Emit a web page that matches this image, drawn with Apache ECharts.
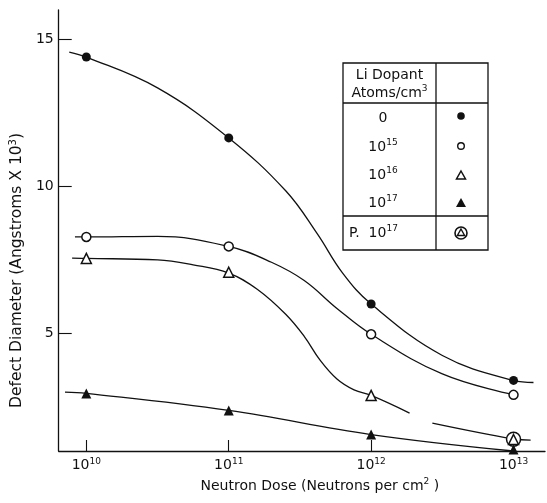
<!DOCTYPE html>
<html><head><meta charset="utf-8">
<script src="https://cdn.jsdelivr.net/npm/echarts@6/dist/echarts.min.js"></script>
<style>html,body{margin:0;padding:0;background:#fff}#c{width:547px;height:503px}</style>
</head><body><div id="c"></div>
<script>
// ---- data (x = log10 of neutron dose) ----
const doseExp = [10, 11, 12, 13];
const xTickExp = [10, 11, 12, 13];
const yTicks = [5, 10, 15];
const dia0 = [14.4, 11.65, 6.0, 3.4];      // Li 0
const dia15 = [8.28, 7.96, 4.97, 2.91];    // Li 10^15
const dia16 = [7.55, 7.08, 2.89, 1.39];    // Li 10^16
const dia17 = [2.96, 2.38, 1.56, 1.05];    // Li 10^17
const pDose = [13];
const diaP17 = [1.4];                      // P 10^17
// fitted curves [logDose, diameter]
const curve0 = [[9.88,14.57],[10,14.4],[10.5,13.35],[11,11.65],[11.4,9.85],[11.62,8.4],[11.8,7.05],[12,6.0],[12.5,4.25],[13,3.4],[13.14,3.33]];
const curve15 = [[9.92,8.28],[10,8.28],[10.5,8.3],[11,7.96],[11.3,7.42],[11.53,6.8],[11.76,5.85],[12,4.97],[12.5,3.62],[13,2.91]];
const curve16 = [[9.9,7.56],[10,7.55],[10.5,7.5],[10.75,7.33],[11,7.05],[11.2,6.5],[11.4,5.65],[11.53,4.9],[11.64,4.1],[11.76,3.45],[11.88,3.08],[12,2.89],[12.27,2.29],[12.35,'-'],[12.43,1.95],[13,1.41],[13.12,1.37]];
const curve17 = [[9.85,3.0],[10,2.96],[11,2.38],[12,1.56],[13,1.0]];
// legend table text
const legHead1 = 'Li Dopant';
const legHead2 = 'Atoms/cm';
const legRows = ['0', '15', '16', '17'];
const legP = '17';

const zip = (xs, ys) => xs.map((x, i) => [x, ys[i]]);
const FONT = 'DejaVu Sans';
const INK = '#111';

const lineS = (data) => ({type:'line', data, smooth:0.4, showSymbol:false, silent:true, z:2,
  lineStyle:{color:INK, width:1.3}, connectNulls:false});
const markS = (name, data, symbol, size, filled, z) => ({type:'scatter', name, data, symbol, symbolSize:size, z:z||4,
  itemStyle:{color: filled ? INK : '#fff', borderColor:INK, borderWidth: filled ? 0 : 1.5, opacity:1}});

const chart = echarts.init(document.getElementById('c'), null, {renderer:'canvas'});

// legend table graphics
const TX = 343, TY = 63, TW = 145, TH = 187, DIV = 436, H1 = 103, H2 = 216;
const rowY = [118, 147, 175, 203];
const symX = 461;
const supRich = {b:{fontFamily:FONT, fontSize:14, fill:INK}, s:{fontFamily:FONT, fontSize:9, fill:INK, padding:[0,0,8,0]}};
const g = [];
g.push({type:'rect', shape:{x:TX, y:TY, width:TW, height:TH}, style:{fill:null, stroke:INK, lineWidth:1.3}});
g.push({type:'line', shape:{x1:TX, y1:H1, x2:TX+TW, y2:H1}, style:{stroke:INK, lineWidth:1.3}});
g.push({type:'line', shape:{x1:TX, y1:H2, x2:TX+TW, y2:H2}, style:{stroke:INK, lineWidth:1.3}});
g.push({type:'line', shape:{x1:DIV, y1:TY, x2:DIV, y2:TY+TH}, style:{stroke:INK, lineWidth:1.3}});
const tStyle = {fontFamily:FONT, fontSize:14, fill:INK};
g.push({type:'text', x:(TX+DIV)/2, y:75, style:Object.assign({text:legHead1, align:'center', verticalAlign:'middle'}, tStyle)});
g.push({type:'text', x:(TX+DIV)/2, y:93, style:Object.assign({text:'{b|'+legHead2+'}{s|3}', align:'center', verticalAlign:'middle', rich:supRich}, tStyle)});
legRows.forEach((r, i) => {
  const txt = i === 0 ? '{b|0}' : '{b|10}{s|' + r + '}';
  g.push({type:'text', x:383, y:rowY[i], style:Object.assign({text:txt, align:'center', verticalAlign:'middle', rich:supRich}, tStyle)});
});
g.push({type:'text', x:349, y:233, style:Object.assign({text:'{b|P.  10}{s|'+legP+'}', align:'left', verticalAlign:'middle', rich:supRich}, tStyle)});
// legend symbols
g.push({type:'circle', shape:{cx:symX, cy:116, r:3.8}, style:{fill:INK}});
g.push({type:'circle', shape:{cx:symX, cy:146, r:3.3}, style:{fill:'#fff', stroke:INK, lineWidth:1.4}});
g.push({type:'polygon', shape:{points:[[symX,171],[symX+4.5,179],[symX-4.5,179]]}, style:{fill:'#fff', stroke:INK, lineWidth:1.5}});
g.push({type:'polygon', shape:{points:[[symX,198],[symX+5,207],[symX-5,207]]}, style:{fill:INK}});
g.push({type:'circle', shape:{cx:symX, cy:233, r:6}, style:{fill:'#fff', stroke:INK, lineWidth:1.6}});
g.push({type:'polygon', shape:{points:[[symX,229],[symX+3.6,235.5],[symX-3.6,235.5]]}, style:{fill:'#fff', stroke:INK, lineWidth:1.4}});

const option = {
  backgroundColor:'#fff',
  animation:false,
  grid:{left:51, right:2, top:10, bottom:52},
  xAxis:{type:'value', min:9.806, max:13.221,
    axisLine:{lineStyle:{color:INK, width:1.3}},
    axisTick:{inside:true, length:11, customValues:xTickExp, lineStyle:{color:INK, width:1.1}},
    splitLine:{show:false},
    axisLabel:{customValues:xTickExp, margin:6, color:INK,
      formatter:(v)=>'{b|10}{s|'+v+'}',
      rich:{b:{fontFamily:FONT, fontSize:14, color:INK}, s:{fontFamily:FONT, fontSize:9, color:INK, padding:[0,0,8,0]}}},
    name:'{b|Neutron Dose (Neutrons per cm}{s|2}{b| )}', nameLocation:'middle', nameGap:24,
    nameTextStyle:{padding:[0,0,0,36], rich:{b:{fontFamily:FONT, fontSize:14, color:INK}, s:{fontFamily:FONT, fontSize:9, color:INK, padding:[0,0,8,0]}}}
  },
  yAxis:{type:'value', min:1, max:16,
    axisLine:{lineStyle:{color:INK, width:1.3}},
    axisTick:{inside:true, length:13, customValues:yTicks, lineStyle:{color:INK, width:1.1}},
    splitLine:{show:false},
    axisLabel:{customValues:yTicks, margin:5, color:INK, fontFamily:FONT, fontSize:14},
    name:'{b|Defect Diameter (Angstroms X 10}{s|3}{b|)}', nameLocation:'middle', nameGap:25,
    nameTextStyle:{padding:[0,80,0,0], rich:{b:{fontFamily:FONT, fontSize:15.5, color:INK}, s:{fontFamily:FONT, fontSize:10, color:INK, padding:[0,0,8,0]}}}
  },
  graphic:g,
  series:[
    lineS(curve0), lineS(curve15), lineS(curve16), lineS(curve17),
    markS('0', zip(doseExp, dia0), 'circle', 9, true),
    markS('10^15', zip(doseExp, dia15), 'circle', 9, false),
    markS('P 10^17', zip(pDose, diaP17), 'circle', 14, false, 3),
    markS('10^16', zip(doseExp, dia16), 'triangle', 10, false, 5),
    markS('10^17', zip(doseExp, dia17), 'triangle', 10, true)
  ]
};
chart.setOption(option);
</script></body></html>
